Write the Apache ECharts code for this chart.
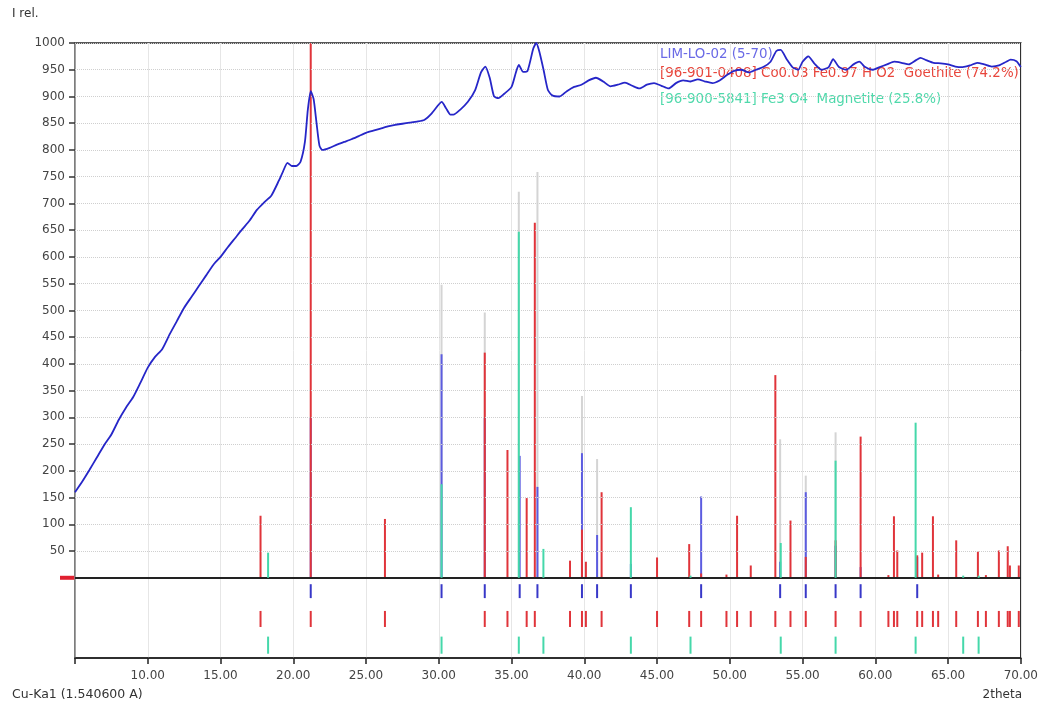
<!DOCTYPE html>
<html><head><meta charset="utf-8">
<script src="https://cdn.jsdelivr.net/npm/echarts@6/dist/echarts.min.js"></script>
<style>html,body{margin:0;padding:0;background:#fff}#c{width:1041px;height:704px}</style>
</head><body><div id="c"></div>
<script>
// ---- measured scan (2theta, I rel.) ----
const scanTheta = [5.0,5.5,6.0,6.5,7.0,7.5,8.0,8.5,9.0,9.5,10.0,10.5,11.0,11.5,12.0,12.5,13.0,13.5,14.0,14.5,15.0,15.5,16.0,16.5,17.0,17.5,18.0,18.5,19.0,19.3,19.6,19.9,20.2,20.5,20.8,21.0,21.2,21.4,21.6,21.8,22.0,22.5,23.0,23.5,24.0,24.5,25.0,25.5,26.0,26.5,27.0,27.5,28.0,28.5,29.0,29.5,30.0,30.2,30.5,30.8,31.0,31.5,32.0,32.5,32.9,33.2,33.5,33.8,34.1,34.5,35.0,35.3,35.5,35.8,36.1,36.5,36.7,36.9,37.2,37.5,37.8,38.3,38.8,39.3,39.8,40.3,40.8,41.3,41.8,42.3,42.8,43.3,43.8,44.3,44.8,45.3,45.8,46.3,46.8,47.3,47.8,48.3,48.8,49.3,49.8,50.3,50.8,51.3,51.8,52.3,52.8,53.2,53.5,53.9,54.3,54.7,55.0,55.4,55.8,56.3,56.8,57.1,57.5,58.0,58.5,58.9,59.3,59.8,60.3,60.8,61.3,61.8,62.3,62.8,63.1,63.5,64.0,64.5,65.0,65.5,66.0,66.5,67.0,67.5,68.0,68.5,69.0,69.3,69.7,70.0];
const scanCounts = [160,180,202,225,248,268,295,318,338,365,393,413,428,455,480,505,525,545,565,585,600,618,635,652,668,688,702,715,742,760,776,770,770,778,815,875,910,895,850,808,800,804,810,815,820,826,832,836,840,844,847,849,851,853,856,868,885,890,878,866,866,876,890,912,945,956,935,900,897,905,918,945,959,946,948,990,1000,985,950,912,902,900,910,918,922,930,935,928,919,922,926,920,915,922,925,920,915,925,930,928,932,928,925,930,940,948,950,945,950,955,965,985,987,970,955,950,965,975,962,950,955,970,955,950,960,965,955,950,955,960,965,963,960,968,972,968,963,962,960,956,955,958,963,960,956,958,965,969,966,955];

// ---- stick patterns ----
const peakListPos = [30.19,33.16,35.50,36.78,39.84,40.88,53.46,55.22,57.27];
const peakListInt = [548,496,722,759,340,222,259,191,272];

const samplePos = [21.20,30.19,33.16,35.56,36.78,39.84,40.88,43.20,48.03,53.46,55.22,57.27,58.99,62.88];
const sampleInt = [300,418,300,228,170,233,80,26,152,30,160,60,20,39];

const goethitePos = [17.75,21.20,26.30,33.16,34.72,36.04,36.60,39.02,39.84,40.11,41.19,45.00,47.21,48.03,49.77,50.50,51.44,53.13,54.17,55.22,57.27,58.99,60.90,61.28,61.51,62.88,63.22,63.96,64.32,65.56,67.05,67.60,68.49,69.10,69.25,69.86];
const goethiteInt = [116,1000,110,421,239,149,664,32,90,30,160,38,63,8,6,116,23,379,107,39,70,264,5,115,51,42,47,115,6,70,49,5,51,59,23,23];

const magnetitePos = [18.27,30.19,35.50,37.19,43.20,47.30,53.50,57.27,62.77,66.04,67.10];
const magnetiteInt = [47,175,647,54,132,4,65,219,290,4,4];

const yTicks = [50,100,150,200,250,300,350,400,450,500,550,600,650,700,750,800,850,900,950,1000];
const legendNames = ['LIM-LO-02 (5-70)','[96-901-0408] Co0.03 Fe0.97 H O2  Goethite (74.2%)','[96-900-5841] Fe3 O4  Magnetite (25.8%)'];

// ---- styles ----
const C_SCAN = '#2626c8', C_BLUE = '#5c5ce0', C_RED = '#e0343a', C_TEAL = '#45d8aa', C_GRAY = '#d4d4d4';
const FONT = '"DejaVu Sans", Verdana, sans-serif';

function stickSeries(name, pos, ints, color, z, w){
  return {
    type:'custom', name, z, silent:true, clip:true,
    data: pos.map((p,i)=>[p, ints[i]]),
    encode:{x:0,y:1},
    renderItem(params, api){
      const a = api.coord([api.value(0), 0]);
      const b = api.coord([api.value(0), api.value(1)]);
      return {type:'line', shape:{x1:a[0],y1:a[1],x2:b[0],y2:b[1]}, style:{stroke:color, lineWidth:w}};
    }
  };
}
function rowSeries(name, pos, y0, y1, color, z){
  return {
    type:'custom', name, z, silent:true, clip:true,
    data: pos.map(p=>[p, y0, y1]),
    encode:{x:0,y:[1,2]},
    renderItem(params, api){
      const a = api.coord([api.value(0), api.value(1)]);
      const b = api.coord([api.value(0), api.value(2)]);
      return {type:'line', shape:{x1:a[0],y1:a[1],x2:b[0],y2:b[1]}, style:{stroke:color, lineWidth:2}};
    }
  };
}

const chart = echarts.init(document.getElementById('c'), null, {renderer:'canvas'});
const option = {
  animation:false,
  backgroundColor:'#fff',
  textStyle:{fontFamily:FONT},
  grid:{left:75, right:19, top:43, bottom:46, show:true, borderColor:'#222', borderWidth:1.5, backgroundColor:'transparent'},
  xAxis:{
    type:'value', min:5, max:70, interval:5,
    axisLine:{show:true, onZero:false, lineStyle:{color:'#222', width:1.5}},
    axisTick:{show:true, inside:false, length:6, lineStyle:{color:'#222', width:1.5}},
    axisLabel:{margin:12, color:'#444', fontSize:12, fontFamily:FONT, formatter:v=> v<10 ? '' : v.toFixed(2)},
    splitLine:{show:true, lineStyle:{color:'#e6e6e6', width:1}}
  },
  yAxis:{
    type:'value', min:-150, max:1000, interval:50,
    axisLine:{show:true, onZero:false, lineStyle:{color:'#8a8a8a', width:1.5}},
    axisTick:{show:true, length:6, customValues:yTicks, lineStyle:{color:'#333', width:1.5}},
    axisLabel:{margin:10, color:'#444', fontSize:12, fontFamily:FONT, customValues:yTicks, formatter:v=>String(v)},
    splitLine:{show:false}
  },
  series:[
    Object.assign(stickSeries('peaks', peakListPos, peakListInt, C_GRAY, 2, 2), {
      markLine:{symbol:'none', silent:true, label:{show:false}, animation:false,
        lineStyle:{type:'dotted', color:'#cfcfcf', width:1},
        data: yTicks.map(v=>({yAxis:v}))}
    }),
    stickSeries(legendNames[0]+' sticks', samplePos, sampleInt, C_BLUE, 3, 2),
    stickSeries(legendNames[1], goethitePos, goethiteInt, C_RED, 4, 2),
    stickSeries(legendNames[2], magnetitePos, magnetiteInt, C_TEAL, 5, 2),
    rowSeries('row sample', samplePos, -12, -38, '#3838c8', 6),
    rowSeries('row goethite', goethitePos, -62, -92, C_RED, 6),
    rowSeries('row magnetite', magnetitePos, -110, -142, C_TEAL, 6),
    {
      type:'line', name:legendNames[0], z:8, silent:true, showSymbol:false, smooth:0.2,
      data: scanTheta.map((t,i)=>[t, scanCounts[i]]),
      lineStyle:{color:C_SCAN, width:1.8},
      markLine:{symbol:'none', silent:true, label:{show:false}, animation:false,
        lineStyle:{type:'solid', color:'#222', width:2},
        data:[{yAxis:0}]}
    }
  ],
  graphic:[
    {id:'yname', type:'text', left:12, top:8, style:{text:'I rel.', font:'12px '+FONT, fill:'#333'}},
    {id:'wl', type:'text', left:12, top:688, style:{text:'Cu-Ka1 (1.540600 A)', font:'12.5px '+FONT, fill:'#333'}},
    {id:'xname', type:'text', right:19, top:689, style:{text:'2theta', font:'12px '+FONT, fill:'#333'}},
    {id:'lg0', type:'text', left:660, top:48, style:{text:legendNames[0], font:'13.4px '+FONT, fill:'#6a6ae6'}},
    {id:'lg1', type:'text', left:660, top:67, style:{text:legendNames[1], font:'13.4px '+FONT, fill:'#e8463c'}},
    {id:'lg2', type:'text', left:660, top:93, style:{text:legendNames[2], font:'13.4px '+FONT, fill:'#4fd9ab'}}
  ]
};
chart.setOption(option);
const yz = chart.convertToPixel({yAxisIndex:0}, 0);
chart.setOption({graphic:[{id:'zmark', type:'rect', shape:{x:60, y:yz-2, width:15, height:4}, style:{fill:'#e02030'}}]});
</script>
</body></html>
